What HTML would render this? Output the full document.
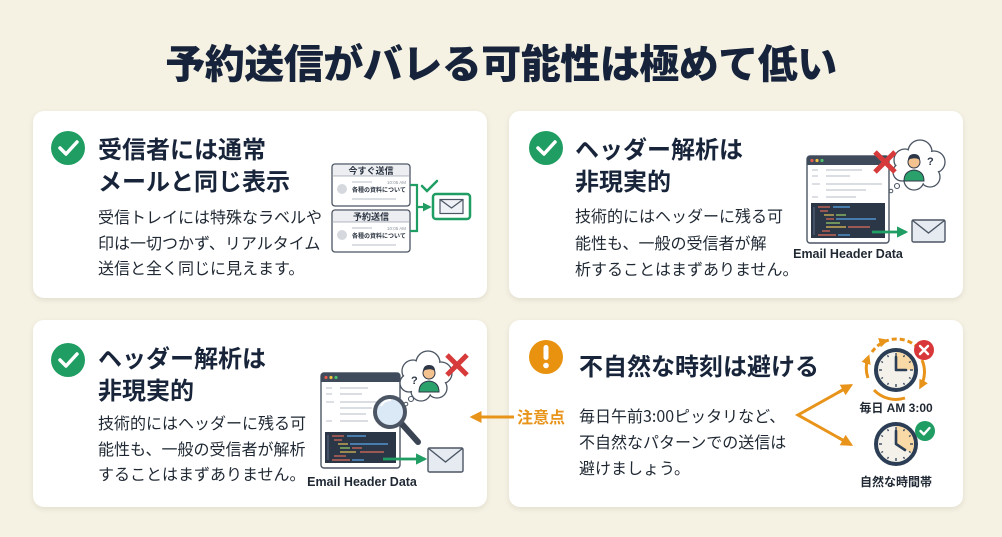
<!DOCTYPE html>
<html><head><meta charset="utf-8"><style>
*{margin:0;padding:0;box-sizing:border-box}
html,body{width:1002px;height:537px;overflow:hidden;background:#f5f2e4}
body{position:relative;font-family:"Liberation Sans","Noto Sans CJK JP",sans-serif;color:#1b2838}
.title{position:absolute;left:0;width:1002px;top:36px;text-align:center;font-size:40px;line-height:50px;font-weight:900;color:#16233a;letter-spacing:-0.5px;font-family:"Noto Sans CJK JP","Liberation Sans",sans-serif}
.card{position:absolute;background:#fff;border-radius:11px;box-shadow:0 2px 6px rgba(60,50,20,.10)}
.h{position:absolute;font-size:24px;line-height:32px;font-weight:700;color:#17243a;white-space:nowrap;font-family:"Noto Sans CJK JP","Liberation Sans",sans-serif}
.b{position:absolute;font-size:16px;line-height:25.5px;color:#1f2833;white-space:nowrap;font-family:"Noto Sans CJK JP","Liberation Sans",sans-serif}
svg{position:absolute;left:0;top:0}
</style></head><body>
<div class="title">予約送信がバレる可能性は極めて低い</div>

<div class="card" style="left:33px;top:111px;width:454px;height:187px"></div>
<div class="card" style="left:509px;top:111px;width:454px;height:187px"></div>
<div class="card" style="left:33px;top:320px;width:454px;height:187px"></div>
<div class="card" style="left:509px;top:320px;width:454px;height:187px"></div>

<div class="h" style="left:98px;top:132px">受信者には通常<br>メールと同じ表示</div>
<div class="b" style="left:98px;top:204px">受信トレイには特殊なラベルや<br>印は一切つかず、リアルタイム<br>送信と全く同じに見えます。</div>

<div class="h" style="left:575px;top:132px">ヘッダー解析は<br>非現実的</div>
<div class="b" style="left:575px;top:202px;line-height:26.5px">技術的にはヘッダーに残る可<br>能性も、一般の受信者が解<br>析することはまずありません。</div>

<div class="h" style="left:98px;top:341px">ヘッダー解析は<br>非現実的</div>
<div class="b" style="left:98px;top:410px">技術的にはヘッダーに残る可<br>能性も、一般の受信者が解析<br>することはまずありません。</div>

<div class="h" style="left:579px;top:349px">不自然な時刻は避ける</div>
<div class="b" style="left:579px;top:402px;line-height:26px">毎日午前3:00ピッタリなど、<br>不自然なパターンでの送信は<br>避けましょう。</div>

<svg width="1002" height="537" viewBox="0 0 1002 537" font-family="Liberation Sans, Noto Sans CJK JP, sans-serif">
<defs>
<marker id="ag" viewBox="0 0 10 10" refX="8" refY="5" markerWidth="4" markerHeight="4" orient="auto"><path d="M0,0 L10,5 L0,10 Z" fill="#1f9d62"/></marker>
<marker id="ao" viewBox="0 0 10 10" refX="8" refY="5" markerWidth="4" markerHeight="4" orient="auto"><path d="M0,0 L10,5 L0,10 Z" fill="#e8931a"/></marker>
<marker id="ao2" viewBox="0 0 10 10" refX="6" refY="5" markerWidth="3.2" markerHeight="3.2" orient="auto"><path d="M0,0 L10,5 L0,10 Z" fill="#e8931a"/></marker>
</defs>

<!-- check icons -->
<g>
<circle cx="68" cy="148" r="17" fill="#1f9d62"/><polyline points="60,148 66,154 77,142" fill="none" stroke="#fff" stroke-width="3.5" stroke-linecap="round" stroke-linejoin="round"/>
<circle cx="546" cy="148" r="17" fill="#1f9d62"/><polyline points="538,148 544,154 555,142" fill="none" stroke="#fff" stroke-width="3.5" stroke-linecap="round" stroke-linejoin="round"/>
<circle cx="68" cy="360" r="17" fill="#1f9d62"/><polyline points="60,360 66,366 77,354" fill="none" stroke="#fff" stroke-width="3.5" stroke-linecap="round" stroke-linejoin="round"/>
<circle cx="546" cy="357" r="17" fill="#e8920f"/>
<rect x="543.5" y="345" width="5" height="15" rx="2.5" fill="#fff"/><circle cx="546" cy="365.5" r="2.8" fill="#fff"/>
</g>

<!-- card1 illustration -->
<g>
<rect x="332" y="164" width="78" height="42" rx="3" fill="#fff" stroke="#4b5563" stroke-width="1.3"/>
<path d="M333,176 L409,176 L409,167 Q409,165 407,165 L335,165 Q333,165 333,167 Z" fill="#eceef1"/>
<line x1="332" y1="176" x2="410" y2="176" stroke="#9aa1ab" stroke-width="0.8"/>
<text x="371" y="174" font-size="9" font-weight="700" text-anchor="middle" fill="#2a3340">今すぐ送信</text>
<circle cx="342" cy="189" r="5" fill="#d5d9de"/>
<line x1="352" y1="182" x2="372" y2="182" stroke="#cfd4da" stroke-width="1.5"/>
<text x="406" y="184" font-size="4.5" text-anchor="end" fill="#8a929c">10:05 AM</text>
<text x="352" y="192" font-size="6" font-weight="700" fill="#2a3340">各種の資料について</text>
<line x1="352" y1="199" x2="396" y2="199" stroke="#cfd4da" stroke-width="1.5"/>

<rect x="332" y="210" width="78" height="42" rx="3" fill="#fff" stroke="#4b5563" stroke-width="1.3"/>
<path d="M333,222 L409,222 L409,213 Q409,211 407,211 L335,211 Q333,211 333,213 Z" fill="#eceef1"/>
<line x1="332" y1="222" x2="410" y2="222" stroke="#9aa1ab" stroke-width="0.8"/>
<text x="371" y="220" font-size="9" font-weight="700" text-anchor="middle" fill="#2a3340">予約送信</text>
<circle cx="342" cy="235" r="5" fill="#d5d9de"/>
<line x1="352" y1="228" x2="372" y2="228" stroke="#cfd4da" stroke-width="1.5"/>
<text x="406" y="230" font-size="4.5" text-anchor="end" fill="#8a929c">10:05 AM</text>
<text x="352" y="238" font-size="6" font-weight="700" fill="#2a3340">各種の資料について</text>
<line x1="352" y1="245" x2="396" y2="245" stroke="#cfd4da" stroke-width="1.5"/>

<polyline points="410,185 417,185 417,231 410,231" fill="none" stroke="#1f9d62" stroke-width="2.2"/>
<line x1="417" y1="207" x2="430" y2="207" stroke="#1f9d62" stroke-width="2.2" marker-end="url(#ag)"/>
<polyline points="422,186 427,191 437,181" fill="none" stroke="#1f9d62" stroke-width="2.5" stroke-linecap="round"/>
<rect x="433" y="194" width="37" height="25" rx="3" fill="#fff" stroke="#1f9d62" stroke-width="2.5"/>
<rect x="440" y="199.5" width="23" height="14" fill="#eef1f5" stroke="#4b5563" stroke-width="1.2"/>
<polyline points="440,199.5 451.5,208 463,199.5" fill="none" stroke="#4b5563" stroke-width="1.2"/>
</g>

<!-- card2 illustration -->
<g>
<rect x="807" y="156" width="82" height="87" rx="3" fill="#fff" stroke="#4b5563" stroke-width="1.4"/>
<path d="M807,165 L807,159 Q807,156 810,156 L886,156 Q889,156 889,159 L889,165 Z" fill="#3f4b5b"/>
<circle cx="812" cy="160.5" r="1.6" fill="#e55b4d"/><circle cx="817" cy="160.5" r="1.6" fill="#f0c040"/><circle cx="822" cy="160.5" r="1.6" fill="#4cc06a"/>
<g stroke="#cdd3da" stroke-width="1.4">
<line x1="812" y1="170" x2="818" y2="170"/><line x1="826" y1="170" x2="862" y2="170"/>
<line x1="812" y1="176" x2="818" y2="176"/><line x1="826" y1="176" x2="850" y2="176"/>
<line x1="812" y1="184" x2="820" y2="184"/><line x1="826" y1="184" x2="882" y2="184"/>
<line x1="826" y1="190" x2="866" y2="190"/>
<line x1="812" y1="197" x2="818" y2="197"/><line x1="826" y1="197" x2="856" y2="197"/>
</g>
<rect x="811" y="203" width="74" height="35" fill="#2b3647"/>
<g stroke-width="1.2">
<line x1="814" y1="207" x2="814" y2="235" stroke="#56627a"/>
<line x1="818" y1="207" x2="830" y2="207" stroke="#e06c5a"/><line x1="833" y1="207" x2="850" y2="207" stroke="#5aa6e8"/>
<line x1="820" y1="211" x2="828" y2="211" stroke="#e06c5a"/>
<line x1="824" y1="215" x2="834" y2="215" stroke="#e5c15a"/><line x1="836" y1="215" x2="846" y2="215" stroke="#9bd36a"/>
<line x1="826" y1="219" x2="834" y2="219" stroke="#e06c5a"/><line x1="836" y1="219" x2="876" y2="219" stroke="#5aa6e8"/>
<line x1="826" y1="223" x2="840" y2="223" stroke="#9bd36a"/>
<line x1="826" y1="227" x2="846" y2="227" stroke="#e5c15a"/><line x1="848" y1="227" x2="870" y2="227" stroke="#e06c5a"/>
<line x1="822" y1="231" x2="830" y2="231" stroke="#e06c5a"/>
<line x1="818" y1="235" x2="836" y2="235" stroke="#e06c5a"/><line x1="838" y1="235" x2="850" y2="235" stroke="#5aa6e8"/>
</g>
<line x1="872" y1="232" x2="906" y2="232" stroke="#1f9d62" stroke-width="2.8" marker-end="url(#ag)"/>
<rect x="912" y="220" width="33" height="22" rx="1.5" fill="#e6ebf2" stroke="#4b5563" stroke-width="1.4"/>
<polyline points="912,220 928.5,233 945,220" fill="none" stroke="#4b5563" stroke-width="1.4"/>
<text x="848" y="258" font-size="12.5" font-weight="700" text-anchor="middle" fill="#1f2833">Email Header Data</text>
<!-- bubble -->
<g fill="#fff" stroke="#4b5563" stroke-width="1.3">
<circle cx="905" cy="160" r="11"/><circle cx="920" cy="152" r="12"/><circle cx="934" cy="162" r="11"/><circle cx="930" cy="177" r="10"/><circle cx="914" cy="180" r="10"/><circle cx="902" cy="172" r="9"/>
</g>
<g fill="#fff">
<circle cx="905" cy="160" r="10"/><circle cx="920" cy="152" r="11"/><circle cx="934" cy="162" r="10"/><circle cx="930" cy="177" r="9"/><circle cx="914" cy="180" r="9"/><circle cx="902" cy="172" r="8"/><circle cx="918" cy="167" r="14"/>
</g>
<circle cx="897" cy="186" r="2.5" fill="#fff" stroke="#4b5563" stroke-width="1.1"/>
<circle cx="891" cy="191" r="1.8" fill="#fff" stroke="#4b5563" stroke-width="1"/>
<path d="M904,181 Q904,171 914,170 Q924,171 924,181 Z" fill="#2aa06a" stroke="#2d3748" stroke-width="1"/>
<circle cx="914" cy="162" r="6" fill="#f4c28e" stroke="#2d3748" stroke-width="1"/>
<path d="M908,161 Q908,154 914,154 Q920,154 920,160 Q916,157 910,159 Z" fill="#2d3748"/>
<text x="927" y="165" font-size="11" font-weight="700" fill="#2d3748">?</text>
<g stroke="#d63a3a" stroke-width="5" stroke-linecap="butt">
<line x1="875" y1="152" x2="895" y2="172"/><line x1="895" y1="152" x2="875" y2="172"/>
</g>
</g>

<!-- card3 illustration -->
<g>
<rect x="321" y="373" width="79" height="95" rx="3" fill="#fff" stroke="#4b5563" stroke-width="1.4"/>
<path d="M321,382 L321,376 Q321,373 324,373 L397,373 Q400,373 400,376 L400,382 Z" fill="#3f4b5b"/>
<circle cx="326" cy="377.5" r="1.6" fill="#e55b4d"/><circle cx="331" cy="377.5" r="1.6" fill="#f0c040"/><circle cx="336" cy="377.5" r="1.6" fill="#4cc06a"/>
<g stroke="#cdd3da" stroke-width="1.4">
<line x1="326" y1="388" x2="332" y2="388"/><line x1="340" y1="388" x2="368" y2="388"/>
<line x1="326" y1="394" x2="332" y2="394"/><line x1="340" y1="394" x2="362" y2="394"/>
<line x1="326" y1="402" x2="334" y2="402"/><line x1="340" y1="402" x2="380" y2="402"/>
<line x1="340" y1="408" x2="372" y2="408"/>
<line x1="340" y1="414" x2="366" y2="414"/>
<line x1="326" y1="421" x2="332" y2="421"/><line x1="340" y1="421" x2="368" y2="421"/>
</g>
<rect x="325" y="432" width="71" height="31" fill="#2b3647"/>
<g stroke-width="1.2">
<line x1="328" y1="435" x2="328" y2="460" stroke="#56627a"/>
<line x1="332" y1="436" x2="344" y2="436" stroke="#e06c5a"/><line x1="347" y1="436" x2="366" y2="436" stroke="#5aa6e8"/>
<line x1="334" y1="440" x2="342" y2="440" stroke="#e06c5a"/>
<line x1="338" y1="444" x2="348" y2="444" stroke="#e5c15a"/><line x1="350" y1="444" x2="388" y2="444" stroke="#5aa6e8"/>
<line x1="340" y1="448" x2="350" y2="448" stroke="#9bd36a"/><line x1="352" y1="448" x2="362" y2="448" stroke="#e06c5a"/>
<line x1="340" y1="452" x2="356" y2="452" stroke="#e5c15a"/><line x1="360" y1="452" x2="384" y2="452" stroke="#e06c5a"/>
<line x1="334" y1="456" x2="346" y2="456" stroke="#e06c5a"/>
<line x1="332" y1="460" x2="350" y2="460" stroke="#e06c5a"/><line x1="352" y1="460" x2="364" y2="460" stroke="#5aa6e8"/>
</g>
<line x1="383" y1="459" x2="425" y2="459" stroke="#1f9d62" stroke-width="2.8" marker-end="url(#ag)"/>
<rect x="428" y="448" width="35" height="24" rx="1.5" fill="#e6ebf2" stroke="#4b5563" stroke-width="1.4"/>
<polyline points="428,448 445.5,462 463,448" fill="none" stroke="#4b5563" stroke-width="1.4"/>
<text x="362" y="486" font-size="12.5" font-weight="700" text-anchor="middle" fill="#1f2833">Email Header Data</text>
<!-- magnifier -->
<line x1="401" y1="423" x2="418" y2="442" stroke="#3b4452" stroke-width="6" stroke-linecap="round"/>
<circle cx="390" cy="412" r="15" fill="#dbe8f5" stroke="#4b5563" stroke-width="4"/>
<path d="M381,406 Q384,400 391,400" fill="none" stroke="#fff" stroke-width="2"/>
<!-- bubble -->
<g fill="#fff" stroke="#4b5563" stroke-width="1.3">
<circle cx="413" cy="371" r="11"/><circle cx="428" cy="363" r="12"/><circle cx="441" cy="373" r="11"/><circle cx="437" cy="388" r="10"/><circle cx="421" cy="391" r="10"/><circle cx="409" cy="383" r="9"/>
</g>
<g fill="#fff">
<circle cx="413" cy="371" r="10"/><circle cx="428" cy="363" r="11"/><circle cx="441" cy="373" r="10"/><circle cx="437" cy="388" r="9"/><circle cx="421" cy="391" r="9"/><circle cx="409" cy="383" r="8"/><circle cx="425" cy="378" r="14"/>
</g>
<circle cx="411" cy="399" r="2.5" fill="#fff" stroke="#4b5563" stroke-width="1.1"/>
<circle cx="406" cy="404" r="1.8" fill="#fff" stroke="#4b5563" stroke-width="1"/>
<path d="M419,392 Q419,382 429,381 Q439,382 439,392 Z" fill="#2aa06a" stroke="#2d3748" stroke-width="1"/>
<circle cx="429" cy="373" r="6" fill="#f4c28e" stroke="#2d3748" stroke-width="1"/>
<path d="M423,372 Q423,365 429,365 Q435,365 435,371 Q431,368 425,370 Z" fill="#2d3748"/>
<text x="411" y="384" font-size="11" font-weight="700" fill="#2d3748">?</text>
<g stroke="#d63a3a" stroke-width="5">
<line x1="447" y1="355" x2="467" y2="375"/><line x1="467" y1="355" x2="447" y2="375"/>
</g>
</g>

<!-- orange connector between cards -->
<line x1="514" y1="417" x2="472" y2="417" stroke="#e8931a" stroke-width="3" marker-end="url(#ao)"/>
<text x="541" y="423" font-size="16" font-weight="700" text-anchor="middle" fill="#e8931a" font-family="Noto Sans CJK JP, sans-serif">注意点</text>

<!-- card4 illustration -->
<g>
<polyline points="848,387 798,415 848,443" fill="none" stroke="#e8931a" stroke-width="3"/>
<line x1="838" y1="392.6" x2="851" y2="385.3" stroke="#e8931a" stroke-width="3" marker-end="url(#ao)"/>
<line x1="838" y1="437.4" x2="851" y2="444.7" stroke="#e8931a" stroke-width="3" marker-end="url(#ao)"/>

<!-- dashed orange around clock1 -->
<g fill="none" stroke="#e8931a" stroke-width="3">
<path d="M872,352 A30,30 0 0,1 916,346" stroke-dasharray="5 3"/>
<path d="M922,360 A30,30 0 0,1 921,386" marker-end="url(#ao2)"/>
<path d="M905,398 A30,30 0 0,1 874,390"/>
<path d="M868,378 A30,30 0 0,1 868,358" marker-end="url(#ao2)"/>
<path d="M880,343 A30,30 0 0,1 885,341" marker-end="url(#ao2)"/>
</g>

<!-- clock 1 -->
<circle cx="896" cy="370" r="20" fill="#f4f1ea" stroke="#2c3e55" stroke-width="4"/>
<path d="M896,370 L896,352 A18,18 0 0,1 914,370 Z" fill="#f9d9a6"/>
<g stroke="#2c3e55" stroke-width="1.3">
<line x1="896" y1="353" x2="896" y2="356"/><line x1="896" y1="384" x2="896" y2="387"/><line x1="879" y1="370" x2="882" y2="370"/><line x1="910" y1="370" x2="913" y2="370"/>
<line x1="904.5" y1="355.3" x2="903.5" y2="357"/><line x1="910.7" y1="361.5" x2="909" y2="362.5"/><line x1="910.7" y1="378.5" x2="909" y2="377.5"/><line x1="904.5" y1="384.7" x2="903.5" y2="383"/>
<line x1="887.5" y1="384.7" x2="888.5" y2="383"/><line x1="881.3" y1="378.5" x2="883" y2="377.5"/><line x1="881.3" y1="361.5" x2="883" y2="362.5"/><line x1="887.5" y1="355.3" x2="888.5" y2="357"/>
</g>
<polyline points="896,357 896,370 906,370" fill="none" stroke="#2c3e55" stroke-width="2.6" stroke-linecap="round" stroke-linejoin="round"/>
<circle cx="924" cy="350" r="10" fill="#d9383a"/>
<g stroke="#fff" stroke-width="2.4" stroke-linecap="round"><line x1="920" y1="346" x2="928" y2="354"/><line x1="928" y1="346" x2="920" y2="354"/></g>
<text x="896" y="412" font-size="12" font-weight="700" text-anchor="middle" fill="#1f2833" font-family="Liberation Sans, Noto Sans CJK JP, sans-serif">毎日 AM 3:00</text>

<!-- clock 2 -->
<circle cx="896" cy="444" r="20" fill="#f4f1ea" stroke="#2c3e55" stroke-width="4"/>
<path d="M896,444 L896,426 A18,18 0 0,1 911.6,453 Z" fill="#f9d9a6"/>
<g stroke="#2c3e55" stroke-width="1.3">
<line x1="896" y1="427" x2="896" y2="430"/><line x1="896" y1="458" x2="896" y2="461"/><line x1="879" y1="444" x2="882" y2="444"/><line x1="910" y1="444" x2="913" y2="444"/>
<line x1="904.5" y1="429.3" x2="903.5" y2="431"/><line x1="910.7" y1="435.5" x2="909" y2="436.5"/><line x1="910.7" y1="452.5" x2="909" y2="451.5"/><line x1="904.5" y1="458.7" x2="903.5" y2="457"/>
<line x1="887.5" y1="458.7" x2="888.5" y2="457"/><line x1="881.3" y1="452.5" x2="883" y2="451.5"/><line x1="881.3" y1="435.5" x2="883" y2="436.5"/><line x1="887.5" y1="429.3" x2="888.5" y2="431"/>
</g>
<polyline points="896,431 896,444 905,450" fill="none" stroke="#2c3e55" stroke-width="2.6" stroke-linecap="round" stroke-linejoin="round"/>
<circle cx="925" cy="431" r="10" fill="#1f9d62"/>
<polyline points="920.5,431 923.8,434.3 929.5,428" fill="none" stroke="#fff" stroke-width="2.4" stroke-linecap="round" stroke-linejoin="round"/>
<text x="896" y="486" font-size="12" font-weight="700" text-anchor="middle" fill="#1f2833" font-family="Noto Sans CJK JP, sans-serif">自然な時間帯</text>
</g>
</svg>
</body></html>
